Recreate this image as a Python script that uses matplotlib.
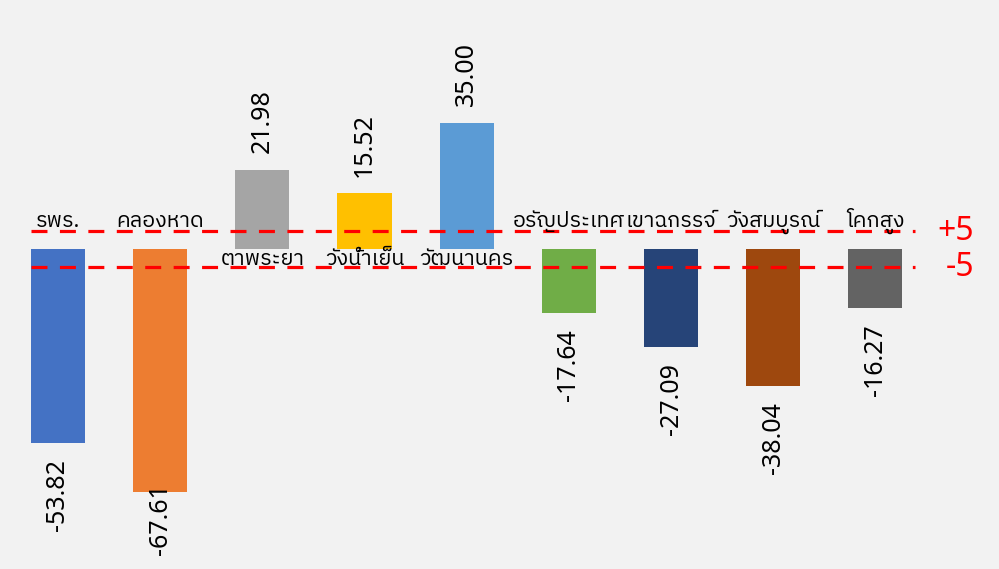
import matplotlib
matplotlib.use("Agg")
import matplotlib.pyplot as plt
from matplotlib import font_manager
from matplotlib.ft2font import FT2Font

# data
categories = ["รพร.", "คลองหาด", "ตาพระยา", "วังน้ำเย็น", "วัฒนานคร",
              "อรัญประเทศ", "เขาฉกรรจ์", "วังสมบูรณ์", "โคกสูง"]
values = [-53.82, -67.61, 21.98, 15.52, 35.00, -17.64, -27.09, -38.04, -16.27]
colors = ["#4472C4", "#ED7D31", "#A5A5A5", "#FFC000", "#5B9BD5",
          "#70AD47", "#264478", "#9E480E", "#636363"]
limits = [5, -5]
limit_labels = ["+5", "-5"]


def find_thai_font():
    """Looks for an installed font that has Thai glyphs."""
    found = []
    for f in font_manager.fontManager.ttflist:
        try:
            cmap = FT2Font(f.fname).get_charmap()
        except Exception:
            continue
        if 0x0E23 in cmap and 0x0E31 in cmap:
            found.append(f.name)
    for name in found:
        if "Thai" in name and "Looped" not in name:
            return name
    return found[0] if found else None


thai = find_thai_font()
fams = [thai, "Noto Sans", "DejaVu Sans"] if thai else ["Noto Sans", "DejaVu Sans"]
plt.rcParams["font.family"] = fams

bg = "#F2F2F2"
fig = plt.figure(figsize=(9.99, 5.69), dpi=100, facecolor=bg)
ax = fig.add_axes([0, 0, 1, 1])
ax.set_facecolor(bg)

x = list(range(len(categories)))
ax.bar(x, values, width=0.53, color=colors)

ax.set_xlim(-0.567, 9.21)
ax.set_ylim(-88.9, 69.2)
ax.axis("off")

# dashed limit lines
for lim, lab in zip(limits, limit_labels):
    ax.hlines(lim, -0.265, 8.39, colors="#FF0000", linewidth=2.3,
              linestyles=(0, (5.0, 3.9)))
    ax.text(8.97, lim, lab, color="#FF0000", fontsize=23, ha="right",
            va="center", family=["Noto Sans", "DejaVu Sans"])

# category names and values
labels = []
for xi, v, name in zip(x, values, categories):
    if v < 0:
        ax.text(xi, 6.1, name, ha="center", va="baseline", fontsize=15.5)
        t = ax.annotate(f"{v:.2f}", (xi, v), xytext=(0, -12), textcoords="offset points",
                        rotation=90, ha="center", va="top", fontsize=18,
                        family=["Noto Sans", "DejaVu Sans"])
    else:
        ax.text(xi, -4.4, name, ha="center", va="baseline", fontsize=15.5)
        t = ax.annotate(f"{v:.2f}", (xi, v), xytext=(0, 12), textcoords="offset points",
                        rotation=90, ha="center", va="bottom", fontsize=18,
                        family=["Noto Sans", "DejaVu Sans"])
    labels.append(t)

# keep value labels inside the picture, like the original does
fig.canvas.draw()
r = fig.canvas.get_renderer()
for t in labels:
    bb = t.get_window_extent(r)
    if bb.y0 < 14:
        t.xyann = (0, t.xyann[1] + (14 - bb.y0) * 72 / fig.dpi)

fig.savefig("out.png", dpi=100, facecolor=bg)
